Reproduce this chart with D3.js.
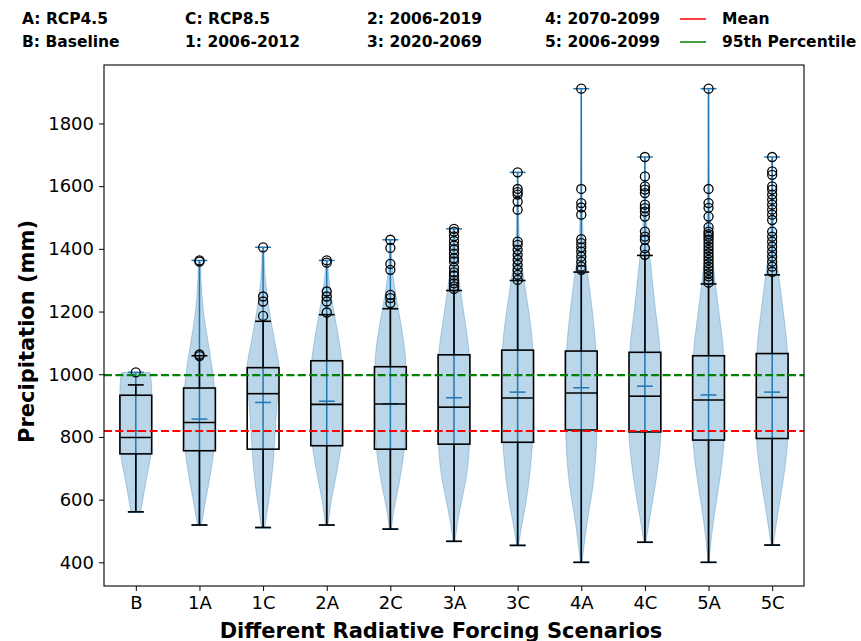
<!DOCTYPE html>
<html>
<head>
<meta charset="utf-8">
<script src="https://cdn.jsdelivr.net/npm/d3@7"></script>
<style>
  body { margin: 0; background: #fff; }
  svg { display: block; font-family: "DejaVu Sans", sans-serif; }
</style>
</head>
<body>
<svg id="plot" width="861" height="641"></svg>
<script>
// scenario labels and box / violin statistics (mm)
var categories = ["B", "1A", "1C", "2A", "2C", "3A", "3C", "4A", "4C", "5A", "5C"];
var mins = [561, 519, 511, 519, 506, 467, 454, 400, 464, 400, 455];
var maxs = [1006, 1363, 1405, 1363, 1429, 1464, 1644, 1911, 1693, 1911, 1693];
var q1 = [746, 756, 761, 772, 761, 777, 783, 822, 816, 790, 795];
var medians = [798, 846, 938, 904, 905, 895, 924, 940, 930, 918, 926];
var q3 = [933, 956, 1021, 1043, 1024, 1062, 1077, 1074, 1070, 1059, 1066];
var whiskerHigh = [966, 1059, 1169, 1190, 1209, 1267, 1299, 1326, 1379, 1288, 1317];
var means = [819, 857, 910, 914, 906, 925, 943, 957, 962, 934, 943];

var outliers = [
  [1006],
  [1359, 1363, 1058, 1063],
  [1405, 1248, 1232, 1186],
  [1363, 1356, 1264, 1248, 1232, 1197],
  [1429, 1403, 1352, 1333, 1253, 1243, 1227],
  [1464, 1455, 1440, 1425, 1410, 1398, 1385, 1370, 1360, 1340, 1325, 1315, 1300, 1290, 1280, 1272],
  [1644, 1591, 1581, 1573, 1551, 1525, 1423, 1413, 1397, 1381, 1365, 1349, 1333, 1317, 1301],
  [1911, 1591, 1546, 1532, 1509, 1431, 1418, 1405, 1391, 1375, 1359, 1343, 1333],
  [1693, 1631, 1599, 1589, 1578, 1541, 1530, 1519, 1503, 1455, 1439, 1429, 1402, 1381],
  [1911, 1591, 1546, 1531, 1503, 1469, 1455, 1447, 1439, 1429, 1418, 1407, 1397, 1386, 1375, 1365,
   1354, 1343, 1333, 1322, 1312, 1301, 1292],
  [1693, 1647, 1636, 1599, 1589, 1573, 1557, 1541, 1525, 1509, 1492, 1455, 1439, 1423, 1407, 1391,
   1375, 1359, 1343, 1327]
];

// violin outline: [value, relative width]
var densities = [
  [[561, 0.3], [660, 0.65], [750, 0.95], [850, 1.0], [950, 1.0], [1006, 0.9]],
  [[519, 0.12], [600, 0.4], [700, 0.75], [800, 0.97], [900, 1.0], [1000, 0.85], [1100, 0.55], [1200, 0.25], [1300, 0.1], [1363, 0.06]],
  [[511, 0.1], [560, 0.25], [650, 0.5], [750, 0.68], [850, 0.8], [950, 0.95], [1020, 1.0], [1100, 0.75], [1200, 0.4], [1300, 0.15], [1405, 0.05]],
  [[519, 0.08], [600, 0.3], [700, 0.68], [800, 0.95], [900, 1.0], [1000, 1.0], [1100, 0.8], [1200, 0.45], [1300, 0.15], [1363, 0.05]],
  [[506, 0.06], [560, 0.2], [650, 0.55], [750, 0.85], [850, 0.97], [950, 1.0], [1050, 0.95], [1150, 0.7], [1250, 0.35], [1350, 0.1], [1429, 0.04]],
  [[467, 0.06], [520, 0.2], [600, 0.5], [680, 0.8], [780, 0.97], [900, 1.0], [1050, 0.97], [1150, 0.75], [1270, 0.4], [1380, 0.15], [1464, 0.05]],
  [[454, 0.06], [500, 0.2], [600, 0.55], [700, 0.8], [800, 0.95], [950, 1.0], [1080, 0.95], [1200, 0.7], [1300, 0.4], [1400, 0.15], [1500, 0.06], [1644, 0.02]],
  [[400, 0.05], [520, 0.35], [650, 0.75], [800, 0.97], [900, 1.0], [1050, 0.95], [1200, 0.7], [1320, 0.4], [1400, 0.18], [1500, 0.08], [1700, 0.03], [1911, 0.02]],
  [[464, 0.06], [540, 0.3], [630, 0.6], [720, 0.85], [820, 1.0], [930, 1.0], [1070, 0.95], [1220, 0.63], [1380, 0.3], [1450, 0.15], [1550, 0.06], [1693, 0.02]],
  [[400, 0.04], [480, 0.18], [580, 0.45], [680, 0.75], [790, 0.97], [920, 1.0], [1060, 0.95], [1180, 0.7], [1300, 0.4], [1450, 0.15], [1550, 0.07], [1700, 0.03], [1911, 0.02]],
  [[455, 0.06], [520, 0.25], [600, 0.5], [700, 0.8], [800, 0.98], [930, 1.0], [1066, 0.96], [1200, 0.7], [1320, 0.4], [1420, 0.15], [1550, 0.06], [1693, 0.02]]
];

var baselineMean = 819;
var percentile95 = 997;
var yTicks = [400, 600, 800, 1000, 1200, 1400, 1600, 1800];

var legendText = [
  ["A: RCP4.5", "B: Baseline"],
  ["C: RCP8.5", "1: 2006-2012"],
  ["2: 2006-2019", "3: 2020-2069"],
  ["4: 2070-2099", "5: 2006-2099"]
];
var legendLines = [{label: "Mean", color: "red"}, {label: "95th Percentile", color: "green"}];

// plot settings
var margin = {left: 104, right: 804, top: 65, bottom: 586};
var blue = "#1f77b4";
var svg = d3.select("#plot");

var positions = categories.map(function(d, i){ return i + 1; });
var xScale = d3.scaleLinear().domain([0.5, 11.5]).range([margin.left, margin.right]);
var yScale = d3.scaleLinear().domain([400 - 75.5, 1911 + 75.5]).range([margin.bottom, margin.top]);
var unit = xScale(1) - xScale(0);
var halfW = 0.25 * unit;   // violin / box half width
var capW = 0.125 * unit;   // caps and mean ticks

var plot = svg.append("g");

// violins
categories.forEach(function(c, i){
  var cx = xScale(positions[i]);
  var area = d3.area()
    .curve(d3.curveMonotoneY)
    .y(function(d){ return yScale(d[0]); })
    .x0(function(d){ return cx - d[1] * halfW; })
    .x1(function(d){ return cx + d[1] * halfW; });
  plot.append("path")
    .attr("d", area(densities[i]))
    .attr("fill", blue)
    .attr("fill-opacity", 0.3)
    .attr("stroke", blue)
    .attr("stroke-opacity", 0.3)
    .attr("stroke-width", 1);

  // extrema bar and caps, mean
  plot.append("line")
    .attr("x1", cx).attr("x2", cx)
    .attr("y1", yScale(mins[i])).attr("y2", yScale(maxs[i]))
    .attr("stroke", blue).attr("stroke-width", 1.5);
  [mins[i], maxs[i], means[i]].forEach(function(v){
    plot.append("line")
      .attr("x1", cx - capW).attr("x2", cx + capW)
      .attr("y1", yScale(v)).attr("y2", yScale(v))
      .attr("stroke", blue).attr("stroke-width", 1.5);
  });
});

// box plots
categories.forEach(function(c, i){
  var cx = xScale(positions[i]);
  var g = plot.append("g")
    .attr("stroke", "black").attr("stroke-width", 1.6).attr("fill", "none");
  g.append("rect")
    .attr("x", cx - halfW).attr("width", 2 * halfW)
    .attr("y", yScale(q3[i])).attr("height", yScale(q1[i]) - yScale(q3[i]));
  g.append("line")
    .attr("x1", cx - halfW).attr("x2", cx + halfW)
    .attr("y1", yScale(medians[i])).attr("y2", yScale(medians[i]));
  g.append("line")
    .attr("x1", cx).attr("x2", cx)
    .attr("y1", yScale(q1[i])).attr("y2", yScale(mins[i]));
  g.append("line")
    .attr("x1", cx).attr("x2", cx)
    .attr("y1", yScale(q3[i])).attr("y2", yScale(whiskerHigh[i]));
  [mins[i], whiskerHigh[i]].forEach(function(v){
    g.append("line")
      .attr("x1", cx - capW).attr("x2", cx + capW)
      .attr("y1", yScale(v)).attr("y2", yScale(v));
  });
  g.selectAll("circle")
    .data(outliers[i])
    .enter()
    .append("circle")
    .attr("cx", cx)
    .attr("cy", function(d){ return yScale(d); })
    .attr("r", 4.5)
    .attr("stroke-width", 1.3);
});

// reference lines
[[baselineMean, "red"], [percentile95, "green"]].forEach(function(d){
  plot.append("line")
    .attr("x1", margin.left).attr("x2", margin.right)
    .attr("y1", yScale(d[0])).attr("y2", yScale(d[0]))
    .attr("stroke", d[1]).attr("stroke-width", 2.2)
    .attr("stroke-dasharray", "8,3.4");
});

// axes
var yAxis = d3.axisLeft(yScale).tickValues(yTicks).tickFormat(d3.format("d"))
  .tickSize(5).tickPadding(5);
var xAxis = d3.axisBottom(xScale).tickValues(positions)
  .tickFormat(function(d, i){ return categories[i]; }).tickSize(5).tickPadding(5);

svg.append("g")
  .attr("transform", "translate(" + margin.left + ",0)")
  .call(yAxis)
  .call(function(g){ g.select(".domain").remove(); })
  .selectAll("text").attr("font-size", 18).attr("font-family", "DejaVu Sans").attr("fill", "#000");
svg.append("g")
  .attr("transform", "translate(0," + margin.bottom + ")")
  .call(xAxis)
  .call(function(g){ g.select(".domain").remove(); })
  .selectAll("text").attr("font-size", 18).attr("font-family", "DejaVu Sans").attr("fill", "#000");

svg.append("rect")
  .attr("x", margin.left).attr("y", margin.top)
  .attr("width", margin.right - margin.left).attr("height", margin.bottom - margin.top)
  .attr("fill", "none").attr("stroke", "black").attr("stroke-width", 1.1);

// axis titles
svg.append("text")
  .attr("x", 441).attr("y", 638)
  .attr("text-anchor", "middle")
  .attr("font-size", 21).attr("font-weight", "bold")
  .text("Different Radiative Forcing Scenarios");
svg.append("text")
  .attr("transform", "translate(34," + ((margin.top + margin.bottom) / 2 + 6) + ") rotate(-90)")
  .attr("text-anchor", "middle")
  .attr("font-size", 21).attr("font-weight", "bold")
  .text("Precipitation (mm)");

// legend
var colX = [22, 185, 367, 545];
var rowY = [24, 47];
legendText.forEach(function(col, ci){
  col.forEach(function(t, ri){
    svg.append("text")
      .attr("x", colX[ci]).attr("y", rowY[ri])
      .attr("font-size", 15.5).attr("font-weight", "bold")
      .text(t);
  });
});
legendLines.forEach(function(d, ri){
  svg.append("line")
    .attr("x1", 680).attr("x2", 706)
    .attr("y1", rowY[ri] - 5).attr("y2", rowY[ri] - 5)
    .attr("stroke", d.color).attr("stroke-width", 1.5);
  svg.append("text")
    .attr("x", 722).attr("y", rowY[ri])
    .attr("font-size", 15.5).attr("font-weight", "bold")
    .text(d.label);
});
</script>
</body>
</html>
